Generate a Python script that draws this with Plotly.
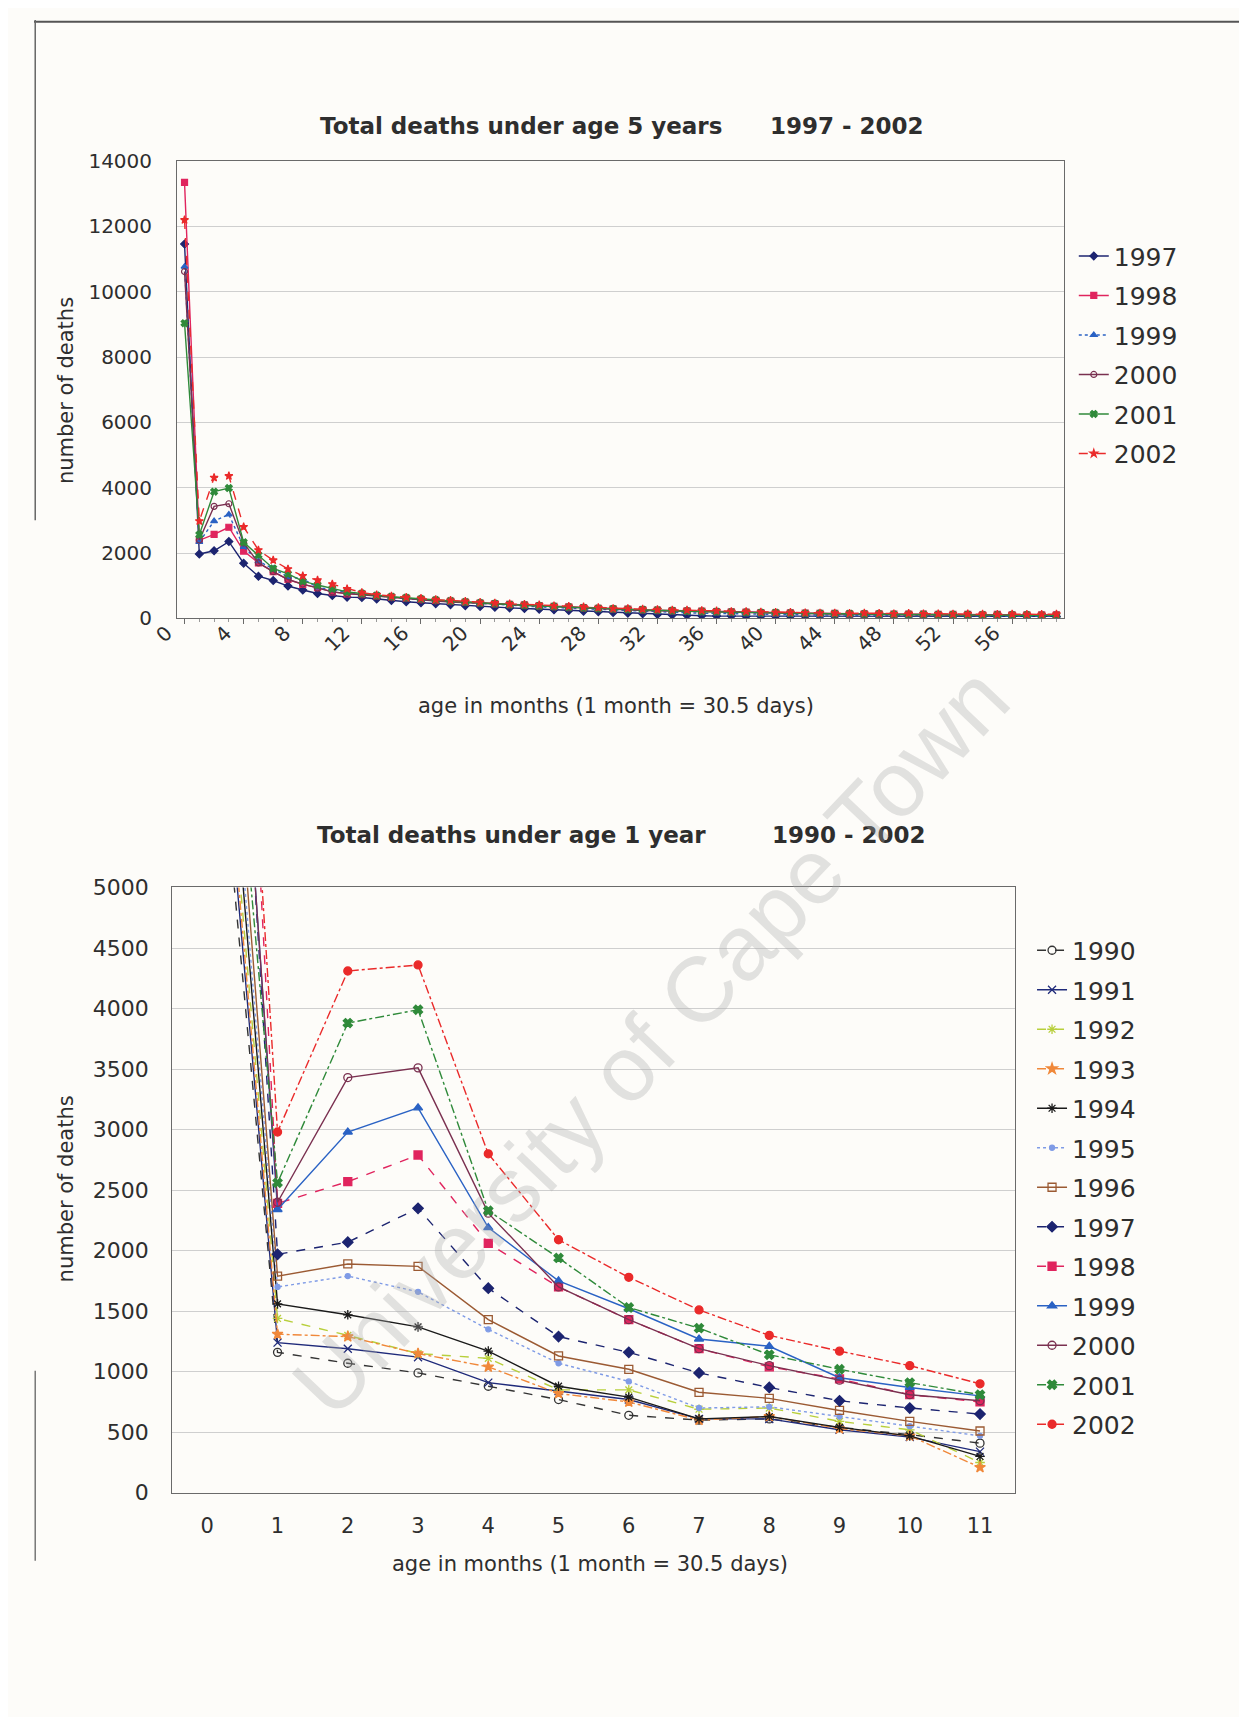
import plotly.graph_objects as go

W, H = 1247, 1717

# ages in months
months_5y = list(range(60))
months_1y = list(range(12))

# deaths per month of age, 1997-2002 (0-59 months)
deaths_1997 = [11460, 1970, 2070, 2350, 1690, 1290, 1160, 990, 870, 760, 700, 650,
               640, 590, 550, 510, 480, 450, 420, 390, 360, 340, 320, 300,
               280, 260, 240, 220, 200, 180, 160, 140, 120, 100, 90, 80,
               70, 70, 60, 60, 60, 60, 60, 60, 60, 60, 60, 60,
               60, 60, 60, 60, 60, 60, 60, 60, 60, 60, 60, 60]
deaths_1998 = [13350, 2390, 2570, 2790, 2060, 1700, 1430, 1190, 1040, 940, 810, 750,
               740, 690, 650, 620, 580, 550, 530, 500, 470, 450, 430, 410,
               390, 370, 350, 330, 310, 290, 280, 270, 250, 240, 230, 220,
               210, 200, 190, 180, 170, 170, 160, 150, 150, 140, 140, 140,
               130, 130, 130, 120, 120, 120, 110, 120, 110, 110, 110, 110]
deaths_1999 = [10770, 2340, 2980, 3180, 2190, 1750, 1520, 1270, 1210, 950, 870, 800,
               740, 690, 640, 600, 570, 540, 510, 480, 450, 420, 400, 380,
               350, 330, 310, 290, 270, 250, 230, 210, 200, 180, 170, 160,
               150, 140, 130, 120, 120, 110, 110, 100, 100, 100, 90, 90,
               90, 80, 80, 80, 80, 80, 80, 70, 70, 70, 70, 70]
deaths_2000 = [10620, 2400, 3430, 3510, 2310, 1700, 1430, 1190, 1050, 930, 810, 760,
               720, 670, 630, 600, 560, 530, 500, 480, 450, 430, 400, 380,
               360, 340, 320, 300, 290, 270, 260, 240, 230, 220, 210, 200,
               190, 180, 170, 160, 160, 150, 140, 140, 130, 130, 120, 120,
               110, 110, 110, 100, 100, 100, 100, 90, 90, 90, 90, 90]
deaths_2001 = [9040, 2560, 3880, 3990, 2330, 1940, 1530, 1360, 1140, 1020, 910, 810,
               760, 700, 660, 630, 590, 560, 530, 500, 470, 450, 420, 400,
               380, 360, 340, 320, 300, 290, 270, 260, 250, 230, 220, 210,
               200, 190, 180, 170, 170, 160, 150, 150, 140, 140, 130, 130,
               120, 120, 120, 110, 110, 110, 100, 100, 100, 100, 90, 90]
deaths_2002 = [12200, 2980, 4310, 4360, 2800, 2090, 1780, 1510, 1300, 1170, 1050, 900,
               790, 720, 680, 640, 610, 570, 550, 520, 490, 470, 440, 430,
               410, 380, 370, 350, 330, 300, 300, 280, 270, 250, 250, 240,
               230, 210, 210, 190, 180, 180, 170, 160, 160, 150, 160, 150,
               140, 150, 140, 140, 130, 140, 130, 120, 130, 120, 120, 130]

# deaths per month of age, 1990-1996 (0-11 months)
deaths_1990 = [7400, 1160, 1070, 990, 880, 770, 640, 600, 610, 540, 480, 410]
deaths_1991 = [7800, 1240, 1190, 1120, 910, 840, 770, 610, 610, 520, 460, 340]
deaths_1992 = [8200, 1440, 1300, 1150, 1110, 850, 850, 690, 700, 590, 520, 250]
deaths_1993 = [8000, 1310, 1290, 1150, 1040, 820, 750, 600, 630, 530, 470, 210]
deaths_1994 = [8600, 1560, 1470, 1370, 1170, 880, 790, 610, 630, 540, 470, 300]
deaths_1995 = [8800, 1700, 1790, 1660, 1350, 1070, 920, 700, 710, 630, 550, 470]
deaths_1996 = [9300, 1790, 1890, 1870, 1430, 1130, 1020, 830, 780, 680, 590, 510]

top_years = ["1997", "1998", "1999", "2000", "2001", "2002"]
top_series = [deaths_1997, deaths_1998, deaths_1999, deaths_2000, deaths_2001, deaths_2002]
bottom_years = ["1990", "1991", "1992", "1993", "1994", "1995", "1996",
                "1997", "1998", "1999", "2000", "2001", "2002"]
bottom_series = [deaths_1990, deaths_1991, deaths_1992, deaths_1993, deaths_1994,
                 deaths_1995, deaths_1996, deaths_1997, deaths_1998, deaths_1999,
                 deaths_2000, deaths_2001, deaths_2002]

COLORS = {
    "1990": "#333333", "1991": "#1f2a7a", "1992": "#b8cf3c", "1993": "#f0883a",
    "1994": "#1a1a1a", "1995": "#7f9be6", "1996": "#9b5a33", "1997": "#1c2470",
    "1998": "#e0245e", "1999": "#2a62c4", "2000": "#7a3050", "2001": "#2f8a3a",
    "2002": "#ea2a2a",
}
TOP_STYLE = {
    "1997": ("diamond", "solid"), "1998": ("square", "solid"),
    "1999": ("triangle-up", "dot"), "2000": ("circle-open", "solid"),
    "2001": ("x", "solid"), "2002": ("star", "dash"),
}
BOTTOM_STYLE = {
    "1990": ("circle-open", "dash"), "1991": ("x-thin", "solid"),
    "1992": ("asterisk", "dash"), "1993": ("star", "dashdot"),
    "1994": ("asterisk", "solid"), "1995": ("circle", "dot"),
    "1996": ("square-open", "solid"), "1997": ("diamond", "dash"),
    "1998": ("square", "dash"), "1999": ("triangle-up", "solid"),
    "2000": ("circle-open", "solid"), "2001": ("x", "dashdot"),
    "2002": ("circle", "dashdot"),
}

FONT = "DejaVu Sans"
TEXT = "#2e2e2e"


# page positions below are measured on the scanned page; the page is photographed
# with a small offset/shrink, so map them back
def px(x):
    return ((x - 28) / 0.985) / W


def py(y):
    return 1 - ((y - 19.9) / 0.985) / H


fig = go.Figure()

for year, values in zip(top_years, top_series):
    symbol, dash = TOP_STYLE[year]
    c = COLORS[year]
    fig.add_trace(go.Scatter(
        x=months_5y, y=values, name=year, mode="lines+markers",
        xaxis="x", yaxis="y", legend="legend", legendgroup="t" + year,
        line=dict(color=c, width=1.4, dash=dash),
        marker=dict(symbol=symbol, size=6, color=c, line=dict(color=c, width=1.2)),
    ))

for year, values in zip(bottom_years, bottom_series):
    symbol, dash = BOTTOM_STYLE[year]
    c = COLORS[year]
    size = 5 if year == "1995" else 8
    fig.add_trace(go.Scatter(
        x=months_1y, y=values, name=year, mode="lines+markers",
        xaxis="x2", yaxis="y2", legend="legend2", legendgroup="b" + year,
        line=dict(color=c, width=1.4, dash=dash),
        marker=dict(symbol=symbol, size=size, color=c, line=dict(color=c, width=1.3)),
    ))

axis_common = dict(showline=True, mirror=True, linecolor="#6a6a6a", linewidth=1.2,
                   zeroline=False, tickfont=dict(family=FONT, size=20, color=TEXT))

fig.update_layout(
    width=W, height=H,
    paper_bgcolor="#fdfcf9", plot_bgcolor="#fdfcf9",
    margin=dict(l=0, r=0, t=0, b=0),
    xaxis=dict(axis_common, domain=[px(172), px(1064)], range=[-0.5, 59.5],
               tickmode="linear", tick0=0, dtick=4, tickangle=-45, showgrid=False,
               ticks="outside", ticklen=5, tickcolor="#6a6a6a",
               minor=dict(ticks="outside", dtick=1, ticklen=3, tickcolor="#9a9a9a"),
               ticklabelshift=-18, ticklabelstandoff=-11, anchor="y"),
    yaxis=dict(axis_common, domain=[py(618), py(161)], range=[0, 14000], dtick=2000,
               tickformat="d", showgrid=True, gridcolor="#cfcfcf", gridwidth=1,
               ticks="", ticklabelstandoff=20, anchor="x"),
    xaxis2=dict(axis_common, domain=[px(167), px(1015)], range=[-0.5, 11.5],
                tickmode="linear", tick0=0, dtick=1, showgrid=False, ticks="",
                ticklabelstandoff=14, anchor="y2",
                tickfont=dict(family=FONT, size=21, color=TEXT)),
    yaxis2=dict(axis_common, domain=[py(1492), py(887)], range=[0, 5000], dtick=500,
                tickformat="d", showgrid=True, gridcolor="#cfcfcf", gridwidth=1,
                ticks="", ticklabelstandoff=18, anchor="x2",
                tickfont=dict(family=FONT, size=22, color=TEXT)),
    legend=dict(x=px(1074), y=py(233), xanchor="left", yanchor="top",
                font=dict(family=FONT, size=25, color=TEXT),
                bgcolor="rgba(0,0,0,0)", tracegroupgap=4, itemwidth=30),
    legend2=dict(x=px(1032), y=py(927), xanchor="left", yanchor="top",
                 font=dict(family=FONT, size=25, color=TEXT),
                 bgcolor="rgba(0,0,0,0)", tracegroupgap=4, itemwidth=30),
    showlegend=True,
)

title_font = dict(family=FONT, size=23, color=TEXT)
label_font = dict(family=FONT, size=21, color=TEXT)
annotations = [
    dict(text="<b>Total deaths under age 5 years</b>", x=px(314), y=py(126),
         xanchor="left", yanchor="middle", font=title_font),
    dict(text="<b>1997 - 2002</b>", x=px(846), y=py(126),
         xanchor="center", yanchor="middle", font=title_font),
    dict(text="<b>Total deaths under age 1 year</b>", x=px(311), y=py(835),
         xanchor="left", yanchor="middle", font=title_font),
    dict(text="<b>1990 - 2002</b>", x=px(848), y=py(835),
         xanchor="center", yanchor="middle", font=title_font),
    dict(text="age in months (1 month = 30.5 days)", x=px(613), y=py(706),
         xanchor="center", yanchor="middle", font=label_font),
    dict(text="age in months (1 month = 30.5 days)", x=px(587), y=py(1563),
         xanchor="center", yanchor="middle", font=label_font),
    dict(text="number of deaths", x=px(60), y=py(390), textangle=-90,
         xanchor="center", yanchor="middle", font=label_font),
    dict(text="number of deaths", x=px(60), y=py(1188), textangle=-90,
         xanchor="center", yanchor="middle", font=label_font),
    dict(text="University of Cape Town", x=px(648), y=py(1040), textangle=-46.5,
         xanchor="center", yanchor="middle",
         font=dict(family="Liberation Sans", size=92, color="rgba(170,170,170,0.33)")),
]
for a in annotations:
    a.update(xref="paper", yref="paper", showarrow=False)
fig.update_layout(annotations=annotations)

# scanned page edges
fig.add_shape(type="line", xref="paper", yref="paper", x0=0, x1=1, y0=0.999, y1=0.999,
              line=dict(color="#555555", width=2))
fig.add_shape(type="line", xref="paper", yref="paper", x0=0.001, x1=0.001, y0=1, y1=py(520),
              line=dict(color="#666666", width=1.5))
fig.add_shape(type="line", xref="paper", yref="paper", x0=0.001, x1=0.001, y0=py(1370), y1=py(1560),
              line=dict(color="#777777", width=1.5))

fig.write_html("out.html")
